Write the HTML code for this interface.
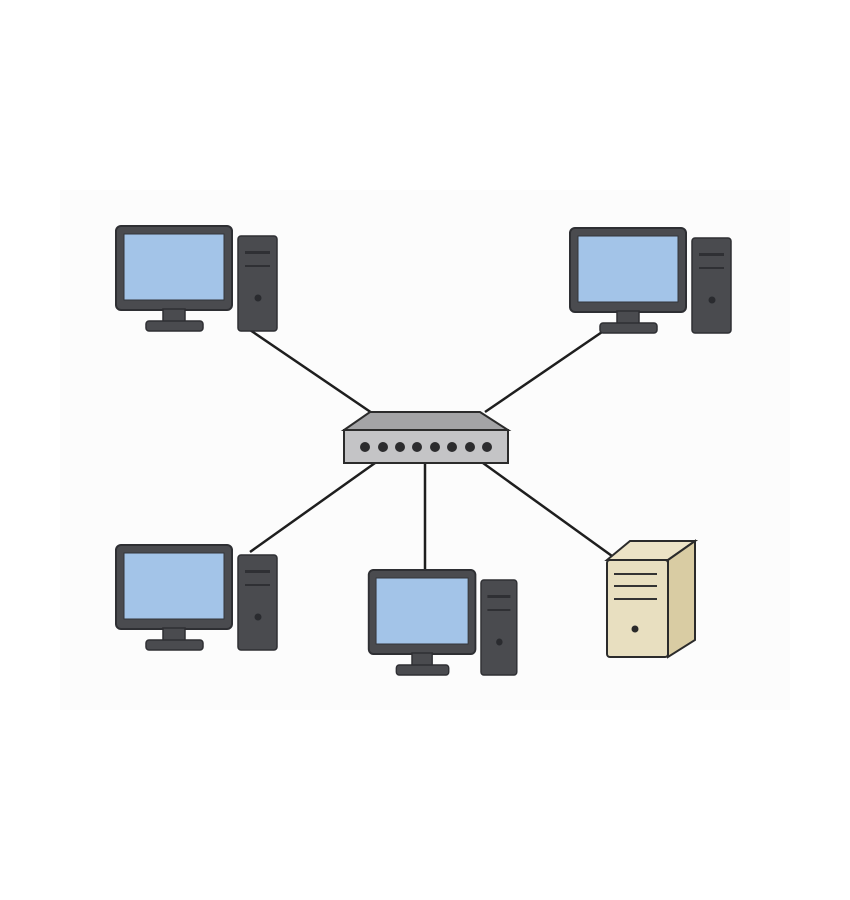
<!DOCTYPE html>
<html><head><style>html,body{margin:0;padding:0;background:#fff;}svg{display:block}</style></head>
<body>
<svg width="850" height="900" viewBox="0 0 850 900" xmlns="http://www.w3.org/2000/svg">
<rect x="0" y="0" width="850" height="900" fill="#fff"/>
<rect x="60" y="190" width="730" height="520" fill="#fcfcfc"/>
<defs>
<g id="ws">
  <rect x="116" y="226" width="116" height="84" rx="5" fill="#4a4b4f" stroke="#2e2f33" stroke-width="2"/>
  <rect x="124" y="234" width="100" height="66" fill="#a3c4e8" stroke="#33353a" stroke-width="1"/>
  <rect x="163" y="309" width="22" height="13" fill="#4a4b4f" stroke="#2e2f33" stroke-width="1.5"/>
  <rect x="146" y="321" width="57" height="10" rx="3" fill="#4a4b4f" stroke="#2e2f33" stroke-width="1.5"/>
  <rect x="238" y="236" width="39" height="95" rx="3" fill="#4a4b4f" stroke="#2e2f33" stroke-width="1.5"/>
  <rect x="245" y="251" width="25" height="3" fill="#2f3034"/>
  <rect x="245" y="265" width="25" height="2" fill="#2f3034"/>
  <circle cx="258" cy="298" r="3.5" fill="#2a2b2f"/>
</g>
</defs>
<g stroke="#1e1e1e" stroke-width="2.5">
  <line x1="250" y1="330" x2="372" y2="413"/>
  <line x1="605" y1="330" x2="485" y2="412"/>
  <line x1="375" y1="463" x2="250" y2="552"/>
  <line x1="425" y1="463" x2="425" y2="572"/>
  <line x1="483" y1="463" x2="612" y2="556"/>
</g>
<use href="#ws"/>
<use href="#ws" transform="translate(454,2)"/>
<use href="#ws" transform="translate(0,319)"/>
<use href="#ws" transform="translate(262,344) scale(0.92,1)"/>
<!-- switch -->
<polygon points="370,412 480,412 508,430 344,430" fill="#a4a4a6" stroke="#2b2b2b" stroke-width="2"/>
<rect x="344" y="430" width="164" height="33" fill="#c4c4c6" stroke="#2b2b2b" stroke-width="2"/>
<g fill="#2c2c2e">
  <circle cx="365" cy="447" r="5"/><circle cx="383" cy="447" r="5"/><circle cx="400" cy="447" r="5"/>
  <circle cx="417" cy="447" r="5"/><circle cx="435" cy="447" r="5"/><circle cx="452" cy="447" r="5"/>
  <circle cx="470" cy="447" r="5"/><circle cx="487" cy="447" r="5"/>
</g>
<!-- server -->
<polygon points="607,560 630,541 695,541 668,560" fill="#ece3c6" stroke="#2b2b2b" stroke-width="2"/>
<polygon points="668,560 695,541 695,640 668,657" fill="#d9cca3" stroke="#2b2b2b" stroke-width="2"/>
<rect x="607" y="560" width="61" height="97" rx="3" fill="#e8dfc0" stroke="#2b2b2b" stroke-width="2"/>
<g stroke="#333" stroke-width="2">
  <line x1="614" y1="574" x2="657" y2="574"/>
  <line x1="614" y1="586" x2="657" y2="586"/>
  <line x1="614" y1="599" x2="657" y2="599"/>
</g>
<circle cx="635" cy="629" r="3.5" fill="#2a2a2a"/>
</svg>
</body></html>
